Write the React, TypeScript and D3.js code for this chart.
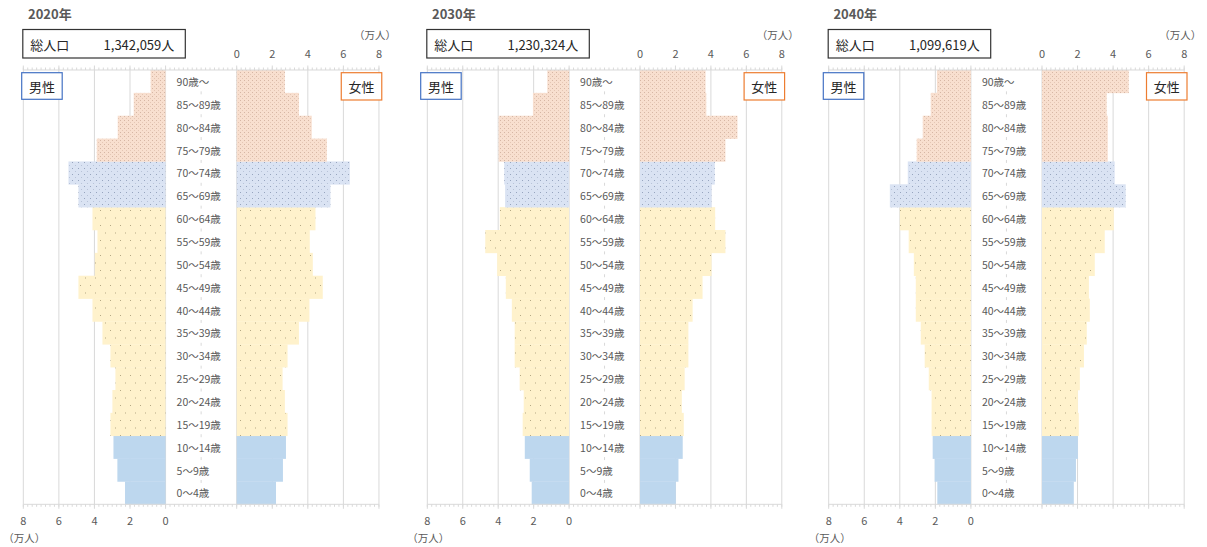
import React from 'react';
import * as d3 from 'd3';

// age groups, youngest first
const ageLabels = [
  '0～4歳', '5～9歳', '10～14歳', '15～19歳', '20～24歳', '25～29歳', '30～34歳',
  '35～39歳', '40～44歳', '45～49歳', '50～54歳', '55～59歳', '60～64歳',
  '65～69歳', '70～74歳', '75～79歳', '80～84歳', '85～89歳', '90歳～',
];

const years = ['2020年', '2030年', '2040年'];
const totals = ['1,342,059人', '1,230,324人', '1,099,619人'];

// population, 万人
const male2020 = [2.28, 2.71, 2.93, 3.10, 2.99, 2.82, 3.10, 3.55, 4.11, 4.90, 3.98, 3.83, 4.11, 4.90, 5.46, 3.87, 2.69, 1.79, 0.84];
const female2020 = [2.21, 2.60, 2.77, 2.86, 2.71, 2.58, 2.86, 3.50, 4.09, 4.84, 4.28, 4.11, 4.43, 5.27, 6.36, 5.07, 4.22, 3.50, 2.71];
const male2030 = [2.11, 2.22, 2.50, 2.62, 2.56, 2.79, 3.07, 3.07, 3.23, 3.57, 4.06, 4.73, 3.91, 3.61, 3.66, 3.98, 3.98, 2.04, 1.23];
const female2030 = [2.02, 2.17, 2.41, 2.47, 2.36, 2.52, 2.73, 2.73, 2.97, 3.53, 4.04, 4.82, 4.24, 4.04, 4.22, 4.82, 5.50, 3.74, 3.70];
const male2040 = [1.89, 2.04, 2.15, 2.21, 2.21, 2.37, 2.60, 2.82, 3.10, 3.10, 3.21, 3.50, 4.00, 4.56, 3.55, 3.05, 2.71, 2.26, 1.91];
const female2040 = [1.79, 1.91, 2.02, 2.07, 2.02, 2.13, 2.36, 2.52, 2.69, 2.64, 2.97, 3.53, 4.04, 4.71, 4.09, 3.70, 3.70, 3.64, 4.88];

const axisTicks = [0, 2, 4, 6, 8];

const maleSeries = [male2020, male2030, male2040];
const femaleSeries = [female2020, female2030, female2040];

// layout of each panel (male 8 line, female 0 line, male legend box left)
const panels = [
  { male8: 23.3, female0: 236.7, legendX: 21.7 },
  { male8: 427.3, female0: 640, legendX: 420.7 },
  { male8: 828.7, female0: 1042, legendX: 823.3 },
];

const TOP = 70;
const BOTTOM = 504.3;
const FONT = "'Noto Sans CJK JP', 'Noto Sans', sans-serif";
const GRID = '#d9d9d9';
const TEXT = '#595959';

const fillFor = (i: number) => {
  if (i <= 2) return '#bdd7ee';
  if (i <= 12) return 'url(#patWork)';
  if (i <= 14) return 'url(#patSenior)';
  return 'url(#patOld)';
};

function Panel({ idx }: { idx: number }) {
  const p = panels[idx];
  const male = maleSeries[idx];
  const female = femaleSeries[idx];
  const unit = (p.female0 - p.male8) / 12;
  const maleX = d3.scaleLinear().domain([0, 8]).range([p.male8 + 8 * unit, p.male8]);
  const femaleX = d3.scaleLinear().domain([0, 8]).range([p.female0, p.female0 + 8 * unit]);
  const y = d3.scaleBand<string>().domain([...ageLabels].reverse()).range([TOP, BOTTOM]).padding(0);
  const center = (maleX(0) + femaleX(0)) / 2;
  const left = maleX(8);
  const right = femaleX(8);

  // minor ticks spanning the whole axis
  const minorStep = unit * 0.25;
  const minor = d3.range(left, right + 0.5, minorStep);
  const major = [...axisTicks.map((t) => maleX(t)), ...axisTicks.map((t) => femaleX(t))];

  return (
    <g>
      <text x={left + 4.7} y={13} fontSize={13} fontWeight="bold" fill={TEXT} dominantBaseline="central">
        {years[idx]}
      </text>
      <rect x={left - 0.5} y={29.5} width={162.5} height={28.5} fill="#fff" stroke="#333" strokeWidth={1.2} />
      <text x={left + 7} y={44} fontSize={13} fill="#262626" dominantBaseline="central">総人口</text>
      <text x={left + 151} y={44} fontSize={13} fill="#262626" textAnchor="end" dominantBaseline="central">
        {totals[idx]}
      </text>

      {/* grid */}
      {major.map((gx, i) => (
        <line key={'g' + i} x1={gx} x2={gx} y1={TOP} y2={BOTTOM} stroke={GRID} strokeWidth={1} />
      ))}

      {/* bars */}
      {ageLabels.map((a, i) => (
        <g key={a}>
          <rect x={maleX(male[i])} y={y(a)} width={maleX(0) - maleX(male[i])} height={y.bandwidth() + 0.3} fill={fillFor(i)} />
          <rect x={femaleX(0)} y={y(a)} width={femaleX(female[i]) - femaleX(0)} height={y.bandwidth() + 0.3} fill={fillFor(i)} />
          <text x={maleX(0) + 11} y={(y(a) ?? 0) + y.bandwidth() / 2} fontSize={10.5} fill={TEXT} dominantBaseline="central">
            {a}
          </text>
        </g>
      ))}

      {/* center category ticks */}
      {d3.range(1, ageLabels.length).map((k) => {
        const cy = TOP + k * y.bandwidth();
        return <line key={'c' + k} x1={center} x2={center} y1={cy - 1.5} y2={cy + 1.5} stroke={GRID} strokeWidth={1} />;
      })}

      {/* top and bottom axis */}
      <line x1={left} x2={right} y1={TOP} y2={TOP} stroke={GRID} strokeWidth={1} />
      <line x1={left} x2={right} y1={BOTTOM} y2={BOTTOM} stroke={GRID} strokeWidth={1} />
      {minor.map((mx, i) => (
        <g key={'m' + i}>
          <line x1={mx} x2={mx} y1={TOP - 2.5} y2={TOP} stroke={GRID} strokeWidth={1} />
          <line x1={mx} x2={mx} y1={BOTTOM} y2={BOTTOM + 2.5} stroke={GRID} strokeWidth={1} />
        </g>
      ))}
      {major.map((gx, i) => (
        <g key={'M' + i}>
          <line x1={gx} x2={gx} y1={TOP - 4.5} y2={TOP} stroke={GRID} strokeWidth={1} />
          <line x1={gx} x2={gx} y1={BOTTOM} y2={BOTTOM + 4.5} stroke={GRID} strokeWidth={1} />
        </g>
      ))}

      {/* tick labels */}
      {axisTicks.map((t) => (
        <text key={'ft' + t} x={femaleX(t)} y={52.5} fontSize={11} fill={TEXT} textAnchor="middle" dominantBaseline="central">
          {t}
        </text>
      ))}
      {axisTicks.map((t) => (
        <text key={'mt' + t} x={maleX(t)} y={519.5} fontSize={11} fill={TEXT} textAnchor="middle" dominantBaseline="central">
          {t}
        </text>
      ))}
      <text x={right + 17} y={34} fontSize={10.5} fill={TEXT} textAnchor="end" dominantBaseline="central">（万人）</text>
      <text x={left - 20} y={537} fontSize={10.5} fill={TEXT} dominantBaseline="central">（万人）</text>

      {/* legend boxes */}
      <rect x={p.legendX} y={72.7} width={40.5} height={26.6} fill="#fff" stroke="#4472c4" strokeWidth={1.2} />
      <text x={p.legendX + 20.25} y={86} fontSize={13} fill="#262626" textAnchor="middle" dominantBaseline="central">男性</text>
      <rect x={right + 2.8 - 40.5} y={72.7} width={40.5} height={27.3} fill="#fff" stroke="#ed7d31" strokeWidth={1.2} />
      <text x={right + 2.8 - 20.25} y={86.5} fontSize={13} fill="#262626" textAnchor="middle" dominantBaseline="central">女性</text>
    </g>
  );
}

export default function App() {
  return (
    <svg
      width={1207}
      height={547}
      style={{ position: 'absolute', left: 0, top: 0, background: '#fff', fontFamily: FONT }}
    >
      <defs>
        <pattern id="patOld" width={4} height={4} patternUnits="userSpaceOnUse">
          <rect width={4} height={4} fill="#f8dfcf" />
          <rect x={0} y={0} width={1} height={1} fill="#d6b6a4" />
          <rect x={2} y={2} width={1} height={1} fill="#e4c6b4" />
        </pattern>
        <pattern id="patSenior" width={6} height={6} patternUnits="userSpaceOnUse">
          <rect width={6} height={6} fill="#dae3f3" />
          <rect x={0} y={0} width={1} height={1} fill="#97a5bf" />
          <rect x={3} y={3} width={1} height={1} fill="#b8c3d8" />
        </pattern>
        <pattern id="patWork" width={10} height={15} patternUnits="userSpaceOnUse">
          <rect width={10} height={15} fill="#fff2cc" />
          <rect x={0} y={0} width={1} height={1} fill="#b5a984" />
          <rect x={5} y={7.5} width={1} height={1} fill="#b5a984" />
        </pattern>
      </defs>
      <rect width={1207} height={547} fill="#fff" />
      {panels.map((_, i) => (
        <Panel key={i} idx={i} />
      ))}
    </svg>
  );
}
